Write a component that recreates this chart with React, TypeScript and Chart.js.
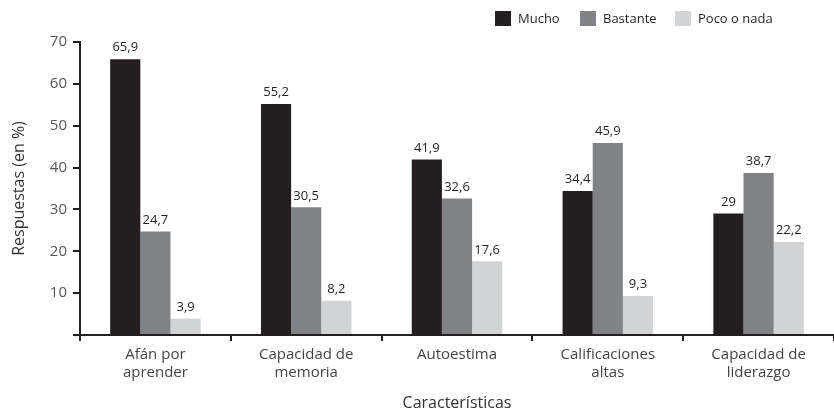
import React, { useEffect, useRef } from "react";
import { Chart, registerables } from "chart.js";

Chart.register(...registerables);

const categories: string[][] = [
  ["Afán por", "aprender"],
  ["Capacidad de", "memoria"],
  ["Autoestima"],
  ["Calificaciones", "altas"],
  ["Capacidad de", "liderazgo"],
];
const seriesNames = ["Mucho", "Bastante", "Poco o nada"];
const mucho = [65.9, 55.2, 41.9, 34.4, 29];
const bastante = [24.7, 30.5, 32.6, 45.9, 38.7];
const pocoONada = [3.9, 8.2, 17.6, 9.3, 22.2];
const yTicks = [0, 10, 20, 30, 40, 50, 60, 70];
const colors = ["#231f20", "#808285", "#d1d3d4"];
const FONT = "'Open Sans', 'Noto Sans', sans-serif";

const valueLabels = {
  id: "valueLabels",
  afterDatasetsDraw(chart: any) {
    const ctx = chart.ctx;
    ctx.save();
    ctx.font = `13px ${FONT}`;
    ctx.fillStyle = "#231f20";
    ctx.textAlign = "center";
    ctx.textBaseline = "bottom";
    chart.data.datasets.forEach((ds: any, i: number) => {
      const meta = chart.getDatasetMeta(i);
      meta.data.forEach((bar: any, j: number) => {
        const v = ds.data[j];
        ctx.fillText(String(v).replace(".", ","), bar.x, bar.y - 5);
      });
    });
    ctx.restore();
  },
};

export default function App() {
  const ref = useRef<HTMLCanvasElement>(null);
  useEffect(() => {
    if (!ref.current) return;
    const chart = new Chart(ref.current, {
      type: "bar",
      data: {
        labels: categories,
        datasets: [mucho, bastante, pocoONada].map((d, i) => ({
          label: seriesNames[i],
          data: d,
          backgroundColor: colors[i],
          borderWidth: 0,
          barPercentage: 1,
          categoryPercentage: 0.6,
        })),
      },
      options: {
        animation: false,
        responsive: false,
        maintainAspectRatio: false,
        layout: { padding: { top: 42, right: 0, left: 0, bottom: 0 } },
        plugins: {
          legend: { display: false },
          tooltip: { enabled: false },
        },
        scales: {
          x: {
            grid: {
              display: true,
              drawOnChartArea: false,
              drawTicks: true,
              tickLength: 6,
              color: "#231f20",
              lineWidth: 2,
              offset: true,
            },
            border: { color: "#231f20", width: 2 },
            ticks: {
              color: "#444",
              font: { family: FONT, size: 15, lineHeight: 1.2 },
              padding: 5,
              maxRotation: 0,
            },
            title: {
              display: true,
              text: "Características",
              color: "#333",
              font: { family: FONT, size: 16 },
              padding: { top: 10 },
            },
            afterFit(scale: any) {
              scale.height = 82;
            },
          },
          y: {
            min: 0,
            max: 70,
            afterBuildTicks(scale: any) {
              scale.ticks = yTicks.map((v) => ({ value: v }));
            },
            grid: {
              display: true,
              drawOnChartArea: false,
              drawTicks: true,
              tickLength: 7,
              color: "#231f20",
              lineWidth: 2,
            },
            border: { color: "#231f20", width: 2 },
            ticks: {
              color: "#555",
              font: { family: FONT, size: 15 },
              padding: 6,
              callback: (v: any) => (v === 0 ? "" : String(v)),
            },
            title: {
              display: true,
              text: "Respuestas (en %)",
              color: "#333",
              font: { family: FONT, size: 16 },
              padding: { top: 10, bottom: 0 },
            },
            afterFit(scale: any) {
              scale.width = 80;
            },
          },
        },
      },
      plugins: [valueLabels],
    });
    return () => chart.destroy();
  }, []);

  const legendItems = [
    { left: 495, textLeft: 518 },
    { left: 580, textLeft: 603 },
    { left: 675, textLeft: 698 },
  ];

  return (
    <div style={{ position: "fixed", left: 0, top: 0, width: 834, height: 417, background: "#fff" }}>
      <canvas ref={ref} width={834} height={417} style={{ width: 834, height: 417, display: "block" }} />
      {legendItems.map((it, i) => (
        <React.Fragment key={i}>
          <div
            style={{
              position: "absolute",
              left: it.left,
              top: 11,
              width: 16,
              height: 15,
              background: colors[i],
            }}
          />
          <div
            style={{
              position: "absolute",
              left: it.textLeft,
              top: 8,
              fontFamily: FONT,
              fontSize: 13,
              lineHeight: "20px",
              color: "#231f20",
              whiteSpace: "nowrap",
            }}
          >
            {seriesNames[i]}
          </div>
        </React.Fragment>
      ))}
    </div>
  );
}
